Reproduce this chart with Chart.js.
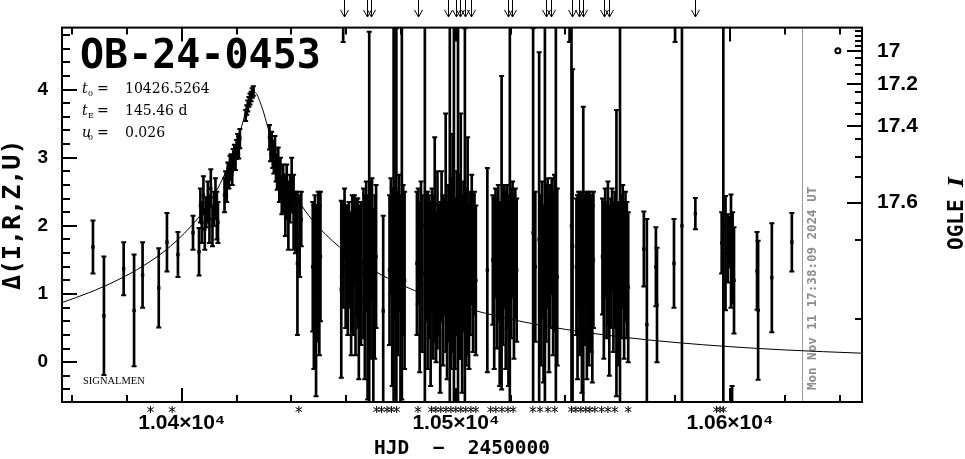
<!DOCTYPE html>
<html><head><meta charset="utf-8">
<script src="https://cdn.jsdelivr.net/npm/chart.js@4.4.1/dist/chart.umd.min.js"></script>
<style>html,body{margin:0;padding:0;background:#fff}canvas{display:block}</style>
</head><body>
<canvas id="c" width="965" height="459"></canvas>
<script>
// ---- data ----
const hjd = [
10367.6,10371.6,10378.8,10382.6,10385.7,10391.6,10394.6,10398.6,10404.1,
10406.3,10406.8,10407.3,10407.9,10408.4,10408.9,10409.5,10410.1,10410.6,10411.2,10411.7,10412.3,10412.8,10413.2,
10415.6,10416.0,10416.4,10416.8,10417.2,10417.6,10418.0,10418.4,10418.8,10419.2,10419.6,10420.0,10420.4,10420.8,10421.2,
10423.3,10423.7,10424.1,10424.5,10424.9,10425.3,10425.7,10426.1,
10432.0,10432.4,10432.8,10433.2,10433.6,10434.0,10434.4,10434.8,10435.2,10435.6,10436.0,10436.5,10437.0,
10437.8,10438.3,10438.9,10439.5,10440.1,10440.8,10441.5,10442.2,10443.0,10443.6,
10447.8,10448.2,10448.6,10449.0,10449.4,10449.8,10450.2,10450.6,
10458.2,10458.6,10458.9,10459.0,10459.4,10459.8,10460.2,10460.6,10461.0,10461.4,10461.8,10462.2,10462.6,10463.0,10463.4,10463.8,10464.2,10464.6,10465.0,10465.4,
10466.3,10466.8,10467.3,10467.8,10468.4,10468.9,10469.4,10469.9,10470.4,10470.9,
10473.5,
10475.8,10476.3,10476.8,10477.3,10477.8,10478.3,10478.8,10479.3,10479.8,10480.3,10480.8,10481.3,
10485.8,10486.3,10486.8,10487.3,10487.8,10488.7,10489.2,10489.7,
10490.3,10490.8,10491.3,10491.8,10492.3,10492.8,10493.3,10493.8,10494.3,10494.8,10495.3,10495.8,10496.3,10496.8,10497.3,10497.8,10498.3,10498.8,
10499.3,10499.8,10500.3,10500.8,10501.3,10501.8,10502.3,10502.8,10503.3,10503.8,10504.3,10504.8,10505.3,10505.8,10506.3,10506.8,10507.3,
10511.5,
10513.5,10514.0,10514.5,10515.0,10515.5,10516.0,10516.7,10517.2,10517.7,10518.2,10518.7,10519.2,10519.7,10520.2,10520.7,10521.2,10521.7,10522.2,
10528.2,10529.0,10530.4,10531.0,10531.5,10532.0,10532.5,10533.0,10533.5,10534.0,10534.5,10535.0,10535.5,10536.0,10536.5,10537.0,
10541.5,10542.2,10542.6,10544.0,10544.4,10544.8,10545.2,10545.6,10546.0,10546.5,10547.0,10547.4,10547.8,10548.2,10548.6,10549.0,10549.4,10549.8,10550.2,
10553.5,10554.0,10554.5,10555.0,10555.5,10556.0,10556.5,10557.0,10557.5,10558.0,10558.6,10559.1,10559.9,10560.4,10560.9,10561.4,10561.9,10562.4,10562.9,
10568.6,10569.7,10573.0,10573.4,10579.6,10580.0,10582.5,10587.4,10597.0,10597.6,10598.4,10599.2,10599.8,10600.4,10600.8,10601.0,10601.5,
10609.9,10610.3,10615.3,10622.6
];
const delta = [
1.69,0.68,1.37,0.76,1.28,1.09,1.76,1.58,1.90,
1.62,2.30,2.05,2.45,1.95,2.20,2.35,2.10,2.55,2.00,2.25,2.40,2.15,2.05,
2.45,2.62,2.55,2.75,2.70,2.85,2.90,2.80,2.98,3.05,3.00,3.12,3.20,3.15,3.28,
3.62,3.70,3.76,3.82,3.86,3.90,3.95,3.98,
3.30,3.15,3.22,3.05,2.95,3.10,2.85,2.75,2.90,2.60,2.70,2.45,2.55,
2.30,2.50,2.15,2.40,2.60,2.20,2.05,1.45,1.85,2.10,
1.40,1.10,1.60,0.90,1.30,1.75,1.20,1.55,
1.07,1.80,6.40,1.55,2.05,1.40,1.70,1.25,1.90,1.50,1.15,1.65,1.35,1.80,1.20,1.55,1.45,1.00,1.60,1.30,
1.45,1.10,1.70,0.95,2.10,1.35,1.80,0.80,1.25,1.55,
0.75,
1.35,1.85,1.10,2.20,1.60,1.95,1.30,1.75,0.90,2.30,1.50,1.20,
1.45,1.70,1.10,1.90,1.30,2.00,1.55,1.20,
1.40,1.00,1.65,1.25,1.80,1.10,1.50,1.35,0.95,1.70,1.20,1.55,1.90,1.05,1.45,2.10,1.30,1.75,
2.00,1.15,1.60,2.15,1.40,1.85,1.00,1.55,2.05,1.25,1.70,1.10,1.45,1.80,1.30,1.60,1.20,
1.35,
1.50,1.15,1.75,1.30,1.60,1.00,1.90,1.40,1.70,1.20,1.55,1.05,2.10,1.45,1.80,1.25,1.60,1.35,
1.90,1.40,1.80,1.20,1.65,1.00,2.05,1.45,1.75,1.15,1.55,1.85,1.30,1.60,2.00,1.25,
6.50,2.00,1.70,1.40,1.10,1.65,1.25,1.50,0.95,1.55,1.35,1.70,1.05,1.45,1.20,1.60,1.30,1.00,1.50,
1.55,1.20,1.75,1.35,1.60,1.05,1.45,1.80,1.25,1.50,1.60,1.15,2.00,1.40,1.70,1.20,1.55,1.35,1.10,
1.66,0.55,1.40,0.84,1.45,6.50,2.00,2.18,1.75,2.00,1.60,1.67,1.76,1.63,-1.00,1.53,1.20,
1.34,0.76,1.24,1.76
];
const err = [
0.39,0.87,0.39,0.82,0.48,0.58,0.43,0.33,0.25,
0.35,0.25,0.30,0.28,0.30,0.22,0.30,0.35,0.28,0.30,0.25,0.30,0.35,0.30,
0.25,0.18,0.20,0.18,0.15,0.18,0.15,0.20,0.15,0.14,0.18,0.14,0.15,0.16,0.14,
0.08,0.07,0.08,0.07,0.08,0.07,0.07,0.07,
0.18,0.20,0.16,0.20,0.18,0.22,0.20,0.22,0.25,0.25,0.30,0.28,0.35,
0.45,0.40,0.50,0.35,0.40,0.55,0.45,1.05,0.60,0.40,
0.95,1.20,0.85,1.40,1.00,0.75,1.10,0.95,
1.30,0.55,1.70,0.75,0.50,0.90,0.60,0.85,0.45,0.70,1.05,0.80,0.95,0.65,1.10,0.85,0.95,1.25,0.70,1.05,
1.10,1.35,0.95,1.50,2.75,1.30,0.90,1.45,1.20,1.05,
1.40,
1.10,0.85,1.45,2.90,0.95,2.95,1.20,1.00,1.55,2.85,1.10,1.30,
1.05,0.85,1.25,0.75,1.15,3.00,0.95,1.30,
1.05,1.35,0.90,1.20,1.50,1.10,1.30,0.95,1.40,1.10,1.25,0.85,1.75,1.30,1.15,2.90,1.40,1.60,
3.00,1.25,1.20,2.95,1.35,1.80,1.45,1.10,2.85,1.30,1.60,1.20,1.05,0.95,1.15,0.90,1.10,
1.50,
0.95,1.25,0.80,1.10,1.00,1.35,2.30,1.15,0.90,1.30,1.05,1.40,3.00,1.10,0.85,1.20,0.95,1.05,
3.00,1.10,2.75,1.25,1.00,1.30,2.95,1.15,0.95,1.30,1.05,0.85,1.20,1.15,3.00,1.30,
1.80,3.00,2.60,1.00,1.35,0.85,1.15,1.00,1.40,2.20,1.10,0.80,1.30,1.05,1.25,0.90,1.15,1.30,1.00,
0.85,1.15,0.80,1.00,1.05,1.25,0.95,0.75,1.10,1.00,2.10,1.20,3.00,1.05,0.90,1.15,0.95,1.00,1.10,
0.55,1.55,0.58,0.84,0.65,1.80,3.00,0.23,0.45,3.00,0.84,0.50,0.37,0.83,0.65,0.67,0.78,
0.57,1.02,0.80,0.43
];
// model curve
const modelT = [10356.3,10366,10376,10386,10396,10406,10410,10414,10417,10420,10422,10424,10426.5,10429,10433,10436,10440,10445,10450,10460,10470,10485,10500,10520,10540,10560,10580,10600,10620,10648.2];
const modelDelta = [0.874,1.017,1.193,1.414,1.705,2.116,2.339,2.618,2.882,3.214,3.480,3.762,3.963,3.770,3.221,2.888,2.546,2.225,1.977,1.610,1.343,1.050,0.837,0.630,0.481,0.371,0.289,0.227,0.179,0.131];
// axes
const xTickValues = [10400,10500,10600];
const xTickLabels = ['1.04\u00d710\u2074','1.05\u00d710\u2074','1.06\u00d710\u2074'];
const yTickValues = [0,1,2,3,4];
const magTickDelta = [4.867,4.794,4.720,4.637,4.566,4.469,4.359,4.234,4.085,3.968,3.807,3.641,3.466,3.276,3.013,2.724,2.343,1.792,0.640];
const magTickLabels = ['','','','','17','','','','17.2','','','','17.4','','','','17.6','',''];
// annotations
const alertHJD = [10459.3,10467.7,10468.9,10486.3,10497.3,10500.0,10501.6,10503.5,10505.6,10519.2,10520.4,10533.0,10534.9,10542.3,10545.1,10546.5,10553.9,10555.9,10587.2];
const starHJD = [10388.6,10396.5,10442.7,10471.1,10472.9,10474.9,10476.5,10478.4,10486.2,10491.1,10492.7,10494.5,10496.4,10498.2,10500.0,10501.8,10503.6,10505.5,10507.3,10512.7,10514.6,10516.8,10519.0,10520.9,10528.1,10530.7,10533.6,10536.1,10542.2,10543.8,10545.6,10547.4,10548.9,10550.7,10553.2,10555.5,10558.0,10562.9,10595.1,10596.4,10597.6];
const nowHJD = 10626.3;
const nowLabel = 'Mon Nov 11 17:38:09 2024 UT';
const baseHJD = [10639.4];
const baseDelta = [4.57];
const X_MIN = 10356.3, X_MAX = 10648.2, Y_MIN = -0.585, Y_MAX = 4.91;

// ---- build datasets ----
const bars = hjd.map((t,i)=>({x:t, y:[delta[i]-err[i], delta[i]+err[i]]}));
const caps = [];
hjd.forEach((t,i)=>{caps.push({x:t,y:delta[i]-err[i]});caps.push({x:t,y:delta[i]+err[i]});});
const centers = hjd.map((t,i)=>({x:t,y:delta[i]}));
const model = modelT.map((t,i)=>({x:t,y:modelDelta[i]}));
const baseMark = baseHJD.map((t,i)=>({x:t,y:baseDelta[i]}));

const decor = {
  id:'decor',
  beforeDatasetsDraw(chart){
    const {ctx, chartArea:a, scales:{x}} = chart;
    const px = Math.round(x.getPixelForValue(nowHJD)) + 0.5;
    ctx.save();
    ctx.strokeStyle = '#9a9a9a'; ctx.lineWidth = 1;
    ctx.beginPath(); ctx.moveTo(px, a.top); ctx.lineTo(px, a.bottom); ctx.stroke();
    ctx.translate(px + 13, a.bottom - 12);
    ctx.rotate(-Math.PI/2);
    ctx.fillStyle = '#8c8c8c';
    ctx.font = 'bold 12.5px "DejaVu Sans Mono"';
    ctx.textAlign = 'left'; ctx.textBaseline = 'alphabetic';
    ctx.fillText(nowLabel, 0, 0);
    ctx.restore();
  },
  afterDraw(chart){
    const {ctx, chartArea:a, scales:{x, y, y2}} = chart;
    ctx.save();
    ctx.strokeStyle = '#000'; ctx.fillStyle = '#000';
    // frame
    ctx.lineWidth = 2;
    ctx.strokeRect(a.left, a.top, a.right - a.left, a.bottom - a.top);
    // left ticks
    ctx.beginPath();
    for (let k = -2; k <= 24; k++) {
      const v = k * 0.2;
      if (v < Y_MIN || v > Y_MAX) continue;
      const len = (k % 5 === 0) ? 15 : 8;
      const py = Math.round(y.getPixelForValue(v));
      ctx.moveTo(a.left, py); ctx.lineTo(a.left + len, py);
    }
    // bottom/top ticks
    for (let d = 10360; d <= 10640; d += 20) {
      const len = (d % 100 === 0) ? 14 : 7;
      const px = Math.round(x.getPixelForValue(d));
      ctx.moveTo(px, a.bottom); ctx.lineTo(px, a.bottom - len);
      ctx.moveTo(px, a.top); ctx.lineTo(px, a.top + len);
    }
    // right (magnitude) ticks
    magTickDelta.forEach((v,i)=>{
      const len = magTickLabels[i] ? 15 : 7;
      const py = Math.round(y2.getPixelForValue(v));
      ctx.moveTo(a.right, py); ctx.lineTo(a.right - len, py);
    });
    ctx.stroke();
    // alert arrows above the frame
    ctx.lineWidth = 1;
    ctx.beginPath();
    alertHJD.forEach(t=>{
      const px = Math.round(x.getPixelForValue(t)) + 0.5;
      ctx.moveTo(px, 0); ctx.lineTo(px, 17);
      ctx.moveTo(px - 4, 10); ctx.lineTo(px, 17); ctx.lineTo(px + 4, 10);
    });
    ctx.stroke();
    // asterisks below the frame
    ctx.beginPath();
    starHJD.forEach(t=>{
      const px = x.getPixelForValue(t), py = a.bottom + 7.5;
      ctx.moveTo(px, py - 3.5); ctx.lineTo(px, py + 3.5);
      ctx.moveTo(px - 3.2, py - 2); ctx.lineTo(px + 3.2, py + 2);
      ctx.moveTo(px - 3.2, py + 2); ctx.lineTo(px + 3.2, py - 2);
    });
    ctx.stroke();
    // title block
    ctx.textAlign = 'left'; ctx.textBaseline = 'alphabetic';
    ctx.font = 'bold 40px "DejaVu Sans Mono"';
    ctx.fillText('OB-24-0453', 80, 68);
    const lines = [['t','0','10426.5264',93],['t','E','145.46 d',115],['u','0','0.026',137]];
    lines.forEach(([v,s,val,by])=>{
      ctx.font = 'italic 14px "DejaVu Serif"';
      ctx.fillText(v, 82, by);
      ctx.font = '8px "DejaVu Serif"';
      ctx.fillText(s, 88, by + 3);
      ctx.font = '14px "DejaVu Serif"';
      ctx.fillText('=', 97, by);
      ctx.fillText(val, 125, by);
    });
    ctx.font = '10.5px "Liberation Serif"';
    ctx.fillText('SIGNALMEN', 83, 384);
    // right axis title
    ctx.translate(963, 250);
    ctx.rotate(-Math.PI/2);
    ctx.font = 'bold 21px "DejaVu Sans Mono"';
    ctx.fillText('OGLE', 0, 0);
    const w = ctx.measureText('OGLE ').width;
    ctx.font = 'italic bold 21px "DejaVu Serif"';
    ctx.fillText('I', w, 0);
    ctx.restore();
  }
};

new Chart(document.getElementById('c'), {
  type:'scatter',
  data:{datasets:[
    {type:'line', data:model, borderColor:'#000', borderWidth:1, pointRadius:0, cubicInterpolationMode:'monotone', fill:false, yAxisID:'y', order:1},
    {type:'bar', data:bars, backgroundColor:'#000', barThickness:2, grouped:false, yAxisID:'y', order:2},
    {type:'scatter', data:caps, pointStyle:'line', radius:2.5, borderWidth:2, borderColor:'#000', yAxisID:'y', order:3},
    {type:'scatter', data:centers, pointStyle:'rect', radius:2.4, backgroundColor:'#000', borderWidth:0, yAxisID:'y', order:4},
    {type:'scatter', data:baseMark, pointStyle:'circle', radius:2.5, borderWidth:2, borderColor:'#000', backgroundColor:'#fff', yAxisID:'y', order:0}
  ]},
  options:{
    responsive:false, animation:false, events:[], devicePixelRatio:1,
    layout:{padding:{top:26,left:0,right:0,bottom:0}},
    plugins:{legend:{display:false}, tooltip:{enabled:false}},
    scales:{
      x:{type:'linear', position:'bottom', min:X_MIN, max:X_MAX, offset:false,
         grid:{display:false, drawTicks:false}, border:{display:false},
         afterBuildTicks:s=>{s.ticks = xTickValues.map(v=>({value:v}));},
         afterFit:s=>{s.height = 57;},
         ticks:{autoSkip:false, maxRotation:0, padding:9, color:'#000',
           font:{family:'Liberation Sans', weight:'bold', size:21},
           callback:(v)=>xTickLabels[xTickValues.indexOf(v)]},
         title:{display:true, text:'HJD  \u2212  2450000', color:'#000', padding:{top:0,bottom:0},
           font:{family:'DejaVu Sans Mono', weight:'bold', size:19.5, lineHeight:1}}},
      y:{type:'linear', position:'left', min:Y_MIN, max:Y_MAX,
         grid:{display:false, drawTicks:false}, border:{display:false},
         afterBuildTicks:s=>{s.ticks = yTickValues.map(v=>({value:v}));},
         afterFit:s=>{s.width = 62;},
         ticks:{autoSkip:false, padding:14, color:'#000',
           font:{family:'Liberation Sans', weight:'bold', size:19}},
         title:{display:true, text:'\u0394(I,R,Z,U)', color:'#000', padding:{top:1,bottom:0},
           font:{family:'DejaVu Sans Mono', weight:'bold', size:25, lineHeight:1}}},
      y2:{type:'linear', position:'right', min:Y_MIN, max:Y_MAX,
         grid:{display:false, drawTicks:false}, border:{display:false},
         afterBuildTicks:s=>{s.ticks = magTickDelta.map(v=>({value:v}));},
         afterFit:s=>{s.width = 103;},
         ticks:{autoSkip:false, padding:15, color:'#000',
           font:{family:'Liberation Sans', weight:'bold', size:21},
           callback:(v)=>{const i = magTickDelta.findIndex(m=>Math.abs(m-v)<1e-6); return i>=0 ? magTickLabels[i] : '';}}}
    }
  },
  plugins:[decor]
});
</script>
</body></html>
